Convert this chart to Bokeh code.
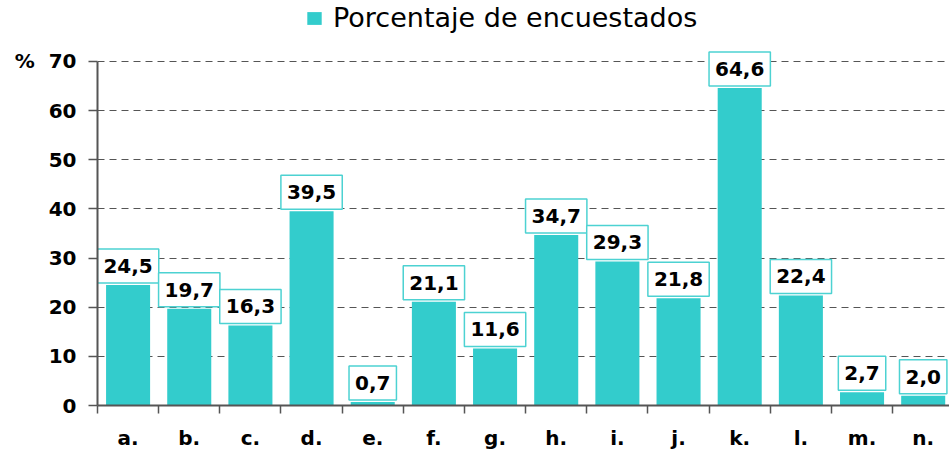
from bokeh.plotting import figure
from bokeh.models import (Range1d, FixedTicker, ColumnDataSource, Legend, LegendItem,
                          CustomJSTickFormatter)
from bokeh.core.properties import value
from bokeh.embed import file_html
from bokeh.resources import INLINE

categories = ["a.", "b.", "c.", "d.", "e.", "f.", "g.", "h.", "i.", "j.", "k.", "l.", "m.", "n."]
values = [24.5, 19.7, 16.3, 39.5, 0.7, 21.1, 11.6, 34.7, 29.3, 21.8, 64.6, 22.4, 2.7, 2.0]
value_labels = ["24,5", "19,7", "16,3", "39,5", "0,7", "21,1", "11,6", "34,7", "29,3", "21,8", "64,6", "22,4", "2,7", "2,0"]
y_ticks = [0, 10, 20, 30, 40, 50, 60, 70]
series_name = "Porcentaje de encuestados"

BAR = "#33CCCC"
AX = "#555555"
FONT = "DejaVu Sans"

xs = [i + 0.5 for i in range(len(categories))]
bounds = list(range(len(categories) + 1))
src = ColumnDataSource(dict(x=xs, top=values, label=value_labels))

p = figure(width=949, height=452, output_backend="svg", toolbar_location=None,
           x_range=Range1d(0, 13.93), y_range=Range1d(0, 82.4),
           min_border_left=97, min_border_top=0, min_border_right=0, min_border_bottom=47)
p.outline_line_color = None
p.background_fill_color = "white"

r = p.vbar(x="x", top="top", width=0.72, source=src, fill_color=BAR, line_color=None)

p.text(x="x", y="top", text="label", source=src, text_align="center", text_baseline="bottom",
       y_offset=-2, text_font=value(FONT), text_font_style="bold", text_font_size="20px",
       text_color="black", background_fill_color="white", border_line_color="#4DD2D2",
       border_line_width=1.5, padding=dict(left=6, right=6, top=10, bottom=10))

xa = p.xaxis[0]
xa.ticker = FixedTicker(ticks=xs, minor_ticks=bounds)
xa.formatter = CustomJSTickFormatter(args=dict(labels=categories),
                                     code="const i = Math.round(tick - 0.5); return labels[i] || '';")
xa.major_tick_line_color = None
xa.major_tick_out = 0
xa.major_tick_in = 0
xa.minor_tick_out = 8
xa.minor_tick_in = 0
xa.minor_tick_line_color = AX
xa.minor_tick_line_width = 1.5
xa.axis_line_color = AX
xa.axis_line_width = 2
xa.major_label_standoff = 12
xa.major_label_text_font = FONT
xa.major_label_text_font_style = "bold"
xa.major_label_text_font_size = "20px"
xa.major_label_text_color = "black"

ya = p.yaxis[0]
ya.bounds = (0, 70)
ya.ticker = FixedTicker(ticks=y_ticks, minor_ticks=[])
ya.formatter = CustomJSTickFormatter(code="return tick == 70 ? '%\u00a0\u00a070' : String(tick);")
ya.major_tick_out = 9
ya.major_tick_in = 0
ya.major_tick_line_color = AX
ya.major_tick_line_width = 1.5
ya.axis_line_color = AX
ya.axis_line_width = 2
ya.major_label_standoff = 12
ya.major_label_text_font = FONT
ya.major_label_text_font_style = "bold"
ya.major_label_text_font_size = "20px"
ya.major_label_text_color = "black"

p.xgrid.visible = False
p.ygrid.ticker = FixedTicker(ticks=y_ticks[1:])
p.ygrid.grid_line_color = AX
p.ygrid.grid_line_dash = "7 5"
p.ygrid.grid_line_width = 1

legend = Legend(items=[LegendItem(label=series_name, renderers=[r])],
                location=(208, 372), orientation="horizontal",
                glyph_width=18, glyph_height=16, label_standoff=10,
                label_text_font=FONT, label_text_font_size="27px", label_text_color="black",
                border_line_color=None, background_fill_alpha=0, padding=0, margin=0)
p.add_layout(legend)

open("out.html", "w").write(file_html(p, INLINE))
